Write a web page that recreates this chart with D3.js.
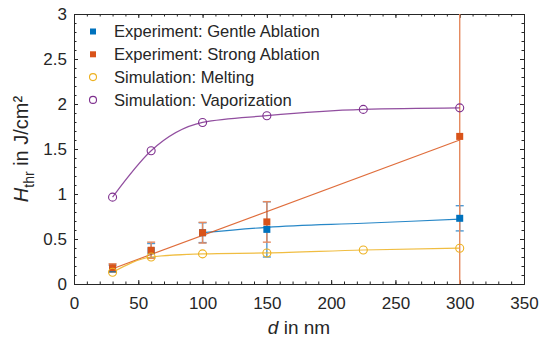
<!DOCTYPE html>
<html>
<head>
<meta charset="utf-8">
<script src="https://cdn.jsdelivr.net/npm/d3@7"></script>
<style>
  body { margin: 0; background: #fff; }
  #chart { width: 540px; height: 339px; }
  text { font-family: "Liberation Sans", Arial, sans-serif; fill: #262626; }
  .axis path, .axis line { stroke: #262626; }
</style>
</head>
<body>
<div id="chart"></div>
<script>
// data
const dExp = [30, 60, 100, 150, 300]
const gentle = [0.17, 0.37, 0.57, 0.607, 0.73]
const gentleErr = [0.04, 0.08, 0.11, 0.307, 0.14]
const strong = [0.18, 0.375, 0.57, 0.69, 1.64]
const strongErr = [0.045, 0.09, 0.115, 0.225, 1.8]

const dSim = [30, 60, 100, 150, 225, 300]
const melting = [0.13, 0.30, 0.335, 0.345, 0.378, 0.398]
const vaporization = [0.965, 1.48, 1.795, 1.87, 1.94, 1.957]

// fit curves
const gentleFitD = [100, 150, 225, 300]
const gentleFitH = [0.57, 0.63, 0.675, 0.72]
const strongFitD = [30, 300]
const strongFitH = [0.17, 1.60]

const xTicks = [0, 50, 100, 150, 200, 250, 300, 350]
const yTicks = [0, 0.5, 1, 1.5, 2, 2.5, 3]

const legendLabels = [
  'Experiment: Gentle Ablation',
  'Experiment: Strong Ablation',
  'Simulation: Melting',
  'Simulation: Vaporization'
]

const colors = {
  gentle: '#0072BD',
  strong: '#D95319',
  melting: '#EDB120',
  vapor: '#7E2F8E'
}
const errColors = {
  gentle: '#4F9AD3',
  strong: '#E58A60'
}

function draw() {
  let dimensions = {
    width: 540,
    height: 339,
    margin: { top: 14, right: 16, bottom: 55, left: 74 }
  }
  dimensions.ctrWidth = dimensions.width - dimensions.margin.left - dimensions.margin.right
  dimensions.ctrHeight = dimensions.height - dimensions.margin.top - dimensions.margin.bottom

  const svg = d3.select('#chart')
    .append('svg')
    .attr('width', dimensions.width)
    .attr('height', dimensions.height)

  const ctr = svg.append('g')
    .attr('transform', `translate(${dimensions.margin.left}, ${dimensions.margin.top})`)

  svg.append('defs').append('clipPath')
    .attr('id', 'plot-clip')
    .append('rect')
    .attr('width', dimensions.ctrWidth)
    .attr('height', dimensions.ctrHeight)

  // scales
  const xScale = d3.scaleLinear().domain([0, 350]).range([0, dimensions.ctrWidth])
  const yScale = d3.scaleLinear().domain([0, 3]).range([dimensions.ctrHeight, 0])

  // axes (ticks point inward)
  const fmt = d => String(d)
  ctr.append('g').classed('axis', true)
    .attr('transform', `translate(0, ${dimensions.ctrHeight})`)
    .call(d3.axisBottom(xScale).tickValues(xTicks).tickSize(-4).tickSizeOuter(0).tickPadding(13).tickFormat(fmt))
    .call(g => g.selectAll('text').style('font-size', '17px'))
  ctr.append('g').classed('axis', true)
    .attr('transform', `translate(0, ${dimensions.ctrHeight})`)
    .call(d3.axisBottom(xScale).tickValues(d3.range(0, 351, 10)).tickSize(-2.5).tickSizeOuter(0).tickFormat(''))
  ctr.append('g').classed('axis', true)
    .call(d3.axisTop(xScale).tickValues(xTicks).tickSize(-4).tickSizeOuter(0).tickFormat(''))
  ctr.append('g').classed('axis', true)
    .call(d3.axisTop(xScale).tickValues(d3.range(0, 351, 10)).tickSize(-2.5).tickSizeOuter(0).tickFormat(''))

  ctr.append('g').classed('axis', true)
    .call(d3.axisLeft(yScale).tickValues(yTicks).tickSize(-4).tickSizeOuter(0).tickPadding(7).tickFormat(fmt))
    .call(g => g.selectAll('text').style('font-size', '17px'))
  ctr.append('g').classed('axis', true)
    .call(d3.axisLeft(yScale).tickValues(d3.range(0, 3.01, 0.1)).tickSize(-2.5).tickSizeOuter(0).tickFormat(''))
  ctr.append('g').classed('axis', true)
    .attr('transform', `translate(${dimensions.ctrWidth}, 0)`)
    .call(d3.axisRight(yScale).tickValues(yTicks).tickSize(-4).tickSizeOuter(0).tickFormat(''))
  ctr.append('g').classed('axis', true)
    .attr('transform', `translate(${dimensions.ctrWidth}, 0)`)
    .call(d3.axisRight(yScale).tickValues(d3.range(0, 3.01, 0.1)).tickSize(-2.5).tickSizeOuter(0).tickFormat(''))

  // axis labels
  const xLabel = svg.append('text')
    .attr('x', dimensions.margin.left + dimensions.ctrWidth / 2)
    .attr('y', 334)
    .style('font-size', '19px')
    .style('text-anchor', 'middle')
  xLabel.append('tspan').style('font-style', 'italic').text('d')
  xLabel.append('tspan').text(' in nm')

  const yLabel = svg.append('text')
    .attr('transform', `translate(28, ${dimensions.margin.top + dimensions.ctrHeight / 2}) rotate(-90)`)
    .style('font-size', '20px')
    .style('text-anchor', 'middle')
  yLabel.append('tspan').style('font-style', 'italic').text('H')
  yLabel.append('tspan').attr('dy', 6).style('font-size', '14px').text('thr')
  yLabel.append('tspan').attr('dy', -6).text(' in J/cm²')

  const plot = ctr.append('g').attr('clip-path', 'url(#plot-clip)')

  // error bars
  function errorBars(ds, vals, errs, color) {
    const g = plot.append('g')
      .attr('stroke', color)
      .attr('stroke-width', 1.4)
    ds.forEach((d, i) => {
      const x = xScale(d)
      const y1 = yScale(vals[i] + errs[i])
      const y2 = yScale(vals[i] - errs[i])
      g.append('line').attr('x1', x).attr('x2', x).attr('y1', y1).attr('y2', y2)
      g.append('line').attr('x1', x - 4).attr('x2', x + 4).attr('y1', y1).attr('y2', y1)
      g.append('line').attr('x1', x - 4).attr('x2', x + 4).attr('y1', y2).attr('y2', y2)
    })
  }
  errorBars(dExp, gentle, gentleErr, errColors.gentle)
  errorBars(dExp, strong, strongErr, errColors.strong)

  // lines
  const curve = (xs, ys, c) => d3.line()
    .x((d, i) => xScale(xs[i]))
    .y(d => yScale(d))
    .curve(c)(ys)

  function drawLine(xs, ys, color, c) {
    plot.append('path')
      .attr('d', curve(xs, ys, c))
      .attr('fill', 'none')
      .attr('stroke', color)
      .attr('stroke-opacity', 0.85)
      .attr('stroke-width', 1.2)
  }
  drawLine(gentleFitD, gentleFitH, colors.gentle, d3.curveMonotoneX)
  drawLine(strongFitD, strongFitH, colors.strong, d3.curveLinear)
  drawLine(dSim, melting, colors.melting, d3.curveMonotoneX)
  drawLine(dSim, vaporization, colors.vapor, d3.curveMonotoneX)

  // markers
  function squares(ds, vals, color) {
    plot.append('g').selectAll('rect')
      .data(vals)
      .join('rect')
      .attr('x', (d, i) => xScale(ds[i]) - 3.5)
      .attr('y', d => yScale(d) - 3.5)
      .attr('width', 7)
      .attr('height', 7)
      .attr('fill', color)
  }
  function circles(ds, vals, color) {
    plot.append('g').selectAll('circle')
      .data(vals)
      .join('circle')
      .attr('cx', (d, i) => xScale(ds[i]))
      .attr('cy', d => yScale(d))
      .attr('r', 4)
      .attr('fill', 'none')
      .attr('stroke', color)
      .attr('stroke-width', 1.1)
  }
  squares(dExp, gentle, colors.gentle)
  squares(dExp, strong, colors.strong)
  circles(dSim, melting, colors.melting)
  circles(dSim, vaporization, colors.vapor)

  // legend
  const legendColors = [colors.gentle, colors.strong, colors.melting, colors.vapor]
  const legend = svg.append('g').attr('transform', 'translate(93, 31.5)')
  legendLabels.forEach((label, i) => {
    const row = legend.append('g').attr('transform', `translate(0, ${i * 22.8})`)
    if (i < 2) {
      row.append('rect').attr('x', -3).attr('y', -3).attr('width', 6).attr('height', 6).attr('fill', legendColors[i])
    } else {
      row.append('circle').attr('r', 3.5).attr('fill', 'none')
        .attr('stroke', legendColors[i]).attr('stroke-width', 1.1)
    }
    row.append('text')
      .attr('x', 21)
      .attr('y', 0)
      .attr('dy', '0.35em')
      .style('font-size', '16.6px')
      .text(label)
  })
}

draw()
</script>
</body>
</html>
